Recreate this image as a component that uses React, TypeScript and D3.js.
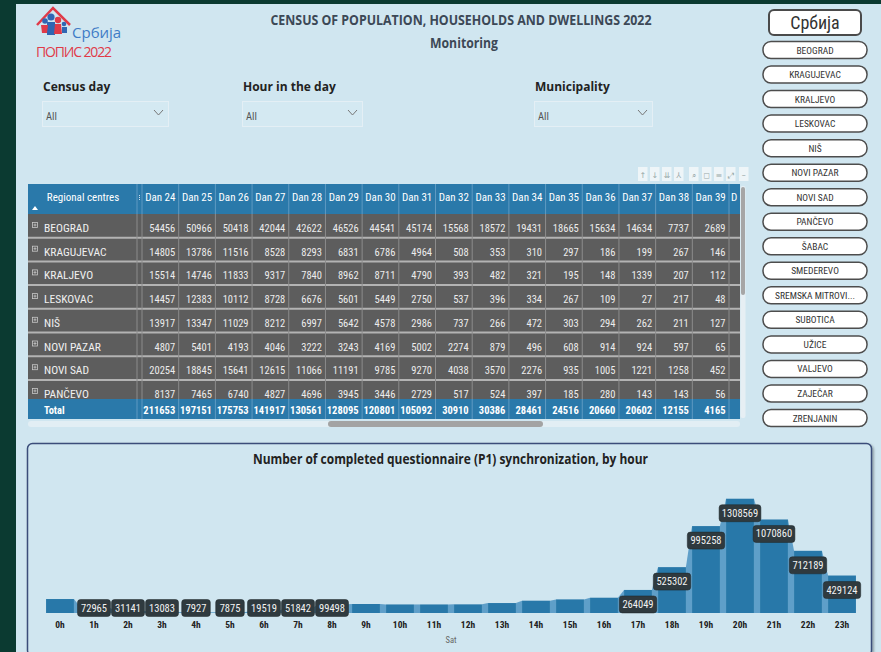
import React from 'react';
import * as d3 from 'd3';

const regions = ["BEOGRAD", "KRAGUJEVAC", "KRALJEVO", "LESKOVAC", "NIŠ", "NOVI PAZAR", "NOVI SAD", "PANČEVO"];
const days = ["Dan 24", "Dan 25", "Dan 26", "Dan 27", "Dan 28", "Dan 29", "Dan 30", "Dan 31", "Dan 32", "Dan 33", "Dan 34", "Dan 35", "Dan 36", "Dan 37", "Dan 38", "Dan 39"];
const beograd = [54456, 50966, 50418, 42044, 42622, 46526, 44541, 45174, 15568, 18572, 19431, 18665, 15634, 14634, 7737, 2689];
const kragujevac = [14805, 13786, 11516, 8528, 8293, 6831, 6786, 4964, 508, 353, 310, 297, 186, 199, 267, 146];
const kraljevo = [15514, 14746, 11833, 9317, 7840, 8962, 8711, 4790, 393, 482, 321, 195, 148, 1339, 207, 112];
const leskovac = [14457, 12383, 10112, 8728, 6676, 5601, 5449, 2750, 537, 396, 334, 267, 109, 27, 217, 48];
const nis = [13917, 13347, 11029, 8212, 6997, 5642, 4578, 2986, 737, 266, 472, 303, 294, 262, 211, 127];
const noviPazar = [4807, 5401, 4193, 4046, 3222, 3243, 4169, 5002, 2274, 879, 496, 608, 914, 924, 597, 65];
const noviSad = [20254, 18845, 15641, 12615, 11066, 11191, 9785, 9270, 4038, 3570, 2276, 935, 1005, 1221, 1258, 452];
const pancevo = [8137, 7465, 6740, 4827, 4696, 3945, 3446, 2729, 517, 524, 397, 185, 280, 143, 143, 56];
const totals = [211653, 197151, 175753, 141917, 130561, 128095, 120801, 105092, 30910, 30386, 28461, 24516, 20660, 20602, 12155, 4165];
const tableRows = [beograd, kragujevac, kraljevo, leskovac, nis, noviPazar, noviSad, pancevo];

const centreButtons = ["BEOGRAD", "KRAGUJEVAC", "KRALJEVO", "LESKOVAC", "NIŠ", "NOVI PAZAR", "NOVI SAD", "PANČEVO", "ŠABAC", "SMEDEREVO", "SREMSKA MITROVI...", "SUBOTICA", "UŽICE", "VALJEVO", "ZAJEČAR", "ZRENJANIN"];

const hours = ["0h", "1h", "2h", "3h", "4h", "5h", "6h", "7h", "8h", "9h", "10h", "11h", "12h", "13h", "14h", "15h", "16h", "17h", "18h", "19h", "20h", "21h", "22h", "23h"];
const syncCounts = [160000, 72965, 31141, 13083, 7927, 7875, 19519, 51842, 99498, 103000, 98000, 98000, 99000, 114000, 141000, 156000, 175000, 264049, 525302, 995258, 1308569, 1070860, 712189, 429124];
const labelShown = [false, true, true, true, true, true, true, true, true, false, false, false, false, false, false, false, false, true, true, true, true, true, true, true];

const slicers = ["Census day", "Hour in the day", "Municipality"];

const NARROW = "'Liberation Sans Narrow','Arial Narrow','Roboto Condensed',Roboto,sans-serif";
const SEMI = "'Open Sans','Noto Sans',sans-serif";
const ARIAL = "'Liberation Sans',Arial,sans-serif";

export default function App() {
  const W = 881, H = 652;
  const panelBg = '#d0e6f0';
  const blue = '#2a79aa';
  const bodyGray = '#5d5d5d';

  // table scales
  const colX = d3.scaleBand<string>().domain(days).range([142, 729]);
  const rowH = 23.7;
  const rowY = d3.scaleBand<string>().domain(regions).range([214, 214 + rowH * regions.length]);
  const tableL = 28, tableR = 740, headT = 184, headB = 214, totT = 399, totB = 419;

  // button scale
  const btnY = d3.scalePoint<string>().domain(centreButtons).range([50, 418]);

  // bar chart scales
  const x = d3.scaleBand<string>().domain(hours).range([43, 859]).paddingInner(0.18).paddingOuter(0.09);
  const y = d3.scaleLinear().domain([0, 1500000]).range([613, 482]);
  const bw = x.bandwidth();
  const fmt = d3.format('d');

  const ribbons = hours.slice(0, -1).map((h, i) => {
    const h2 = hours[i + 1];
    const x1 = (x(h) as number) + bw, x2 = x(h2) as number;
    return `M${x1},${y(syncCounts[i])}L${x2},${y(syncCounts[i + 1])}L${x2},${y(0)}L${x1},${y(0)}Z`;
  });

  const slicerX = [42, 242, 534];
  const slicerW = [126, 120, 118];

  const toolIcons = ["↑", "↓", "⇊", "⅄", "⌕", "◻", "≡", "⤢", "–"];
  const toolX = [638, 650, 662, 674, 689, 702, 714, 726, 739];

  return (
    <svg width={W} height={H} style={{ position: 'absolute', left: 0, top: 0 }}>
      <defs>
        <clipPath id="bodyClip"><rect x={tableL} y={headB} width={tableR - tableL} height={totT - headB} /></clipPath>
        <clipPath id="tblClip"><rect x={tableL} y={headT} width={tableR - tableL} height={totB - headT} /></clipPath>
        <filter id="sh" x="-5%" y="-5%" width="110%" height="120%">
          <feDropShadow dx="1.5" dy="1.5" stdDeviation="1" floodColor="#000" floodOpacity="0.35" />
        </filter>
      </defs>
      <rect width={W} height={H} fill="#0b3a31" />
      <rect x={16} y={4} width={W - 16} height={H - 4} fill={panelBg} />

      {/* logo */}
      <g>
        <polyline points="37,25 53,8 70,25" fill="none" stroke="#e03a48" strokeWidth={2.5} />
        <circle cx={51} cy={17} r={3.6} fill="#2f66b3" />
        <circle cx={58} cy={20} r={3.2} fill="#e03a48" />
        <circle cx={45} cy={21} r={2.8} fill="#2f66b3" />
        <circle cx={64} cy={24} r={2.3} fill="#2f66b3" />
        <path d="M47,22 L55,22 L55,35 L47,35 Z" fill="#2f66b3" />
        <path d="M55,24 L61,24 L62,34 L54,34 Z" fill="#e03a48" />
        <path d="M41,25 L48,25 L47,33 L42,33 Z" fill="#e03a48" />
        <path d="M62,27 L67,27 L67,33 L62,33 Z" fill="#2f66b3" />
        <text x={72} y={38} fontFamily={SEMI} fontSize={15} fill="#3f7cc6">Србија</text>
        <text x={36} y={57} fontFamily={SEMI} fontSize={14} fill="#e03a48" textLength={76}>ПОПИС 2022</text>
      </g>

      {/* titles */}
      <text x={461} y={25} textAnchor="middle" fontFamily={SEMI} fontWeight={700} fontSize={15} fill="#3c4856" textLength={381} lengthAdjust="spacingAndGlyphs">CENSUS OF POPULATION, HOUSEHOLDS AND DWELLINGS 2022</text>
      <text x={464} y={48} textAnchor="middle" fontFamily={SEMI} fontWeight={700} fontSize={14} fill="#3c4856" textLength={68} lengthAdjust="spacingAndGlyphs">Monitoring</text>

      {/* slicers */}
      {slicers.map((s, i) => (
        <g key={s}>
          <text x={slicerX[i] + 1} y={91} fontFamily={SEMI} fontWeight={700} fontSize={12} fill="#222" lengthAdjust="spacingAndGlyphs">{s}</text>
          <rect x={slicerX[i] + 0.5} y={101.5} width={slicerW[i]} height={25} fill="#d4e9f2" stroke="#e4eff5" strokeWidth={1} />
          <text x={slicerX[i] + 4} y={120} fontFamily={NARROW} fontSize={10.5} fill="#555">All</text>
          <polyline points={`${slicerX[i] + slicerW[i] - 14},${110} ${slicerX[i] + slicerW[i] - 9.5},${115} ${slicerX[i] + slicerW[i] - 5},${110}`} fill="none" stroke="#777" strokeWidth={1} />
        </g>
      ))}

      {/* toolbar */}
      {toolIcons.map((t, i) => (
        <g key={i}>
          <rect x={toolX[i]} y={167} width={9.5} height={14} fill="#eef5f8" />
          <text x={toolX[i] + 4.75} y={178} textAnchor="middle" fontSize={8} fill="#9aa" fontFamily="DejaVu Sans">{t}</text>
        </g>
      ))}

      {/* table */}
      <g clipPath="url(#tblClip)">
        <rect x={tableL} y={headT} width={tableR - tableL} height={headB - headT} fill={blue} />
        <rect x={tableL} y={headB} width={tableR - tableL} height={totT - headB} fill={bodyGray} />
        <rect x={tableL} y={totT} width={tableR - tableL} height={totB - totT} fill={blue} />
        {/* header */}
        <text x={83} y={201} textAnchor="middle" fontFamily={NARROW} fontSize={11} fill="#fff">Regional centres</text>
        <path d="M32,210 L35,206 L38,210 Z" fill="#fff" />
        {days.map(d => (
          <text key={d} x={(colX(d) as number) + colX.bandwidth() / 2} y={201} textAnchor="middle" fontFamily={NARROW} fontSize={11} fill="#fff">{d}</text>
        ))}
        <text x={731} y={201} fontFamily={NARROW} fontSize={11} fill="#fff">D</text>
        {/* body */}
        <g clipPath="url(#bodyClip)">
          {regions.map((r, ri) => {
            const ty = rowY(r) as number;
            return (
              <g key={r}>
                <line x1={tableL} x2={tableR} y1={ty + rowH} y2={ty + rowH} stroke="#b3b3b3" strokeWidth={2} />
                <rect x={32.5} y={ty + 8.5} width={5} height={5} fill="none" stroke="#c8c8c8" strokeWidth={0.8} />
                <path d={`M33.5,${ty + 11}h3M35,${ty + 9.5}v3`} stroke="#c8c8c8" strokeWidth={0.8} />
                <text x={44} y={ty + 18} fontFamily={NARROW} fontSize={11.5} fill="#f0f0f0">{r}</text>
                {tableRows[ri].map((v, ci) => (
                  <text key={ci} x={(colX(days[ci]) as number) + colX.bandwidth() - 3.5} y={ty + 18} textAnchor="end" fontFamily={NARROW} fontSize={10.5} fill="#ececec">{fmt(v)}</text>
                ))}
              </g>
            );
          })}
        </g>
        {/* total */}
        <text x={44} y={414} fontFamily={NARROW} fontWeight={700} fontSize={10.5} fill="#fff">Total</text>
        {totals.map((v, ci) => (
          <text key={ci} x={(colX(days[ci]) as number) + colX.bandwidth() - 3.5} y={414} textAnchor="end" fontFamily={NARROW} fontWeight={700} fontSize={10.5} fill="#fff">{fmt(v)}</text>
        ))}
        {/* vertical separators */}
        {[137, 142, ...days.map(d => (colX(d) as number) + colX.bandwidth())].map((vx, i) => (
          <g key={i}>
            <line x1={vx} x2={vx} y1={headT} y2={headB} stroke="#5f9ac2" strokeWidth={1} />
            <line x1={vx} x2={vx} y1={headB} y2={totT} stroke="#8c8c8c" strokeWidth={1} />
            <line x1={vx} x2={vx} y1={totT} y2={totB} stroke="#5f9ac2" strokeWidth={1} />
          </g>
        ))}
        <line x1={139.5} x2={139.5} y1={195} y2={201} stroke="#cfe0ee" strokeWidth={1} strokeDasharray="1,1" />
      </g>
      {/* scrollbars */}
      <rect x={740.5} y={186} width={5} height={232} rx={2} fill="#e6eff4" />
      <rect x={741} y={187} width={4} height={108} rx={2} fill="#a6a6a6" />
      <rect x={28} y={421} width={712} height={6} rx={3} fill="#e2eef4" />
      <rect x={328} y={421} width={215} height={6} rx={3} fill="#a3a3a3" />

      {/* right buttons */}
      <rect x={769} y={10} width={92} height={25} rx={5} fill="#fff" stroke="#4a4a4a" strokeWidth={2} />
      <text x={815} y={29} textAnchor="middle" fontFamily={NARROW} fontSize={18} fill="#333">Србија</text>
      {centreButtons.map(b => {
        const cy = btnY(b) as number;
        return (
          <g key={b}>
            <rect x={763} y={cy - 8.5} width={104} height={17} rx={8} fill="#fff" stroke="#4d4d4d" strokeWidth={1.5} />
            <text x={815} y={cy + 3.5} textAnchor="middle" fontFamily={NARROW} fontSize={9.5} fill="#333">{b}</text>
          </g>
        );
      })}

      {/* bar chart panel */}
      <rect x={27.5} y={443.5} width={844} height={212} rx={5} fill={panelBg} stroke="#3b4d7a" strokeWidth={1.5} filter="url(#sh)" />
      <text x={450.5} y={464} textAnchor="middle" fontFamily={SEMI} fontWeight={700} fontSize={14} fill="#222" textLength={395} lengthAdjust="spacingAndGlyphs">Number of completed questionnaire (P1) synchronization, by hour</text>
      <g>
        {ribbons.map((p, i) => <path key={i} d={p} fill="#5f9fc9" />)}
        {hours.map((h, i) => (
          <rect key={h} x={x(h)} y={y(syncCounts[i])} width={bw} height={y(0) - y(syncCounts[i])} fill="#2878a9" />
        ))}
        {hours.map((h, i) => {
          if (!labelShown[i]) return null;
          const s = fmt(syncCounts[i]);
          const w = s.length * 4.4 + 11;
          const cx = (x(h) as number) + bw / 2;
          const cy = Math.min(y(syncCounts[i]) + 14.5, 608);
          return (
            <g key={h}>
              <rect x={cx - w / 2} y={cy - 8.5} width={w} height={17} rx={3} fill="#2f3a3f" stroke="#1e2629" strokeWidth={0.5} />
              <text x={cx} y={cy + 3.5} textAnchor="middle" fontFamily={NARROW} fontSize={10.5} fill="#f2f2f2">{s}</text>
            </g>
          );
        })}
        {hours.map(h => (
          <text key={h} x={(x(h) as number) + bw / 2} y={628} textAnchor="middle" fontFamily={NARROW} fontWeight={700} fontSize={9.5} fill="#222">{h}</text>
        ))}
        <text x={451} y={643} textAnchor="middle" fontFamily={NARROW} fontSize={8.5} fill="#666">Sat</text>
      </g>
    </svg>
  );
}
